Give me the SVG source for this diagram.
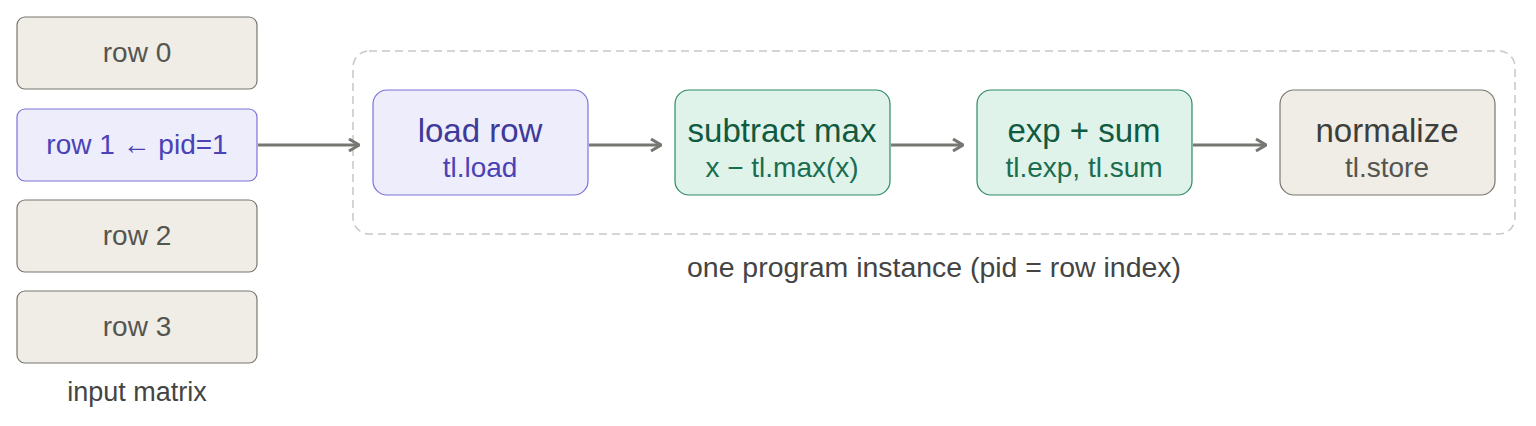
<svg xmlns="http://www.w3.org/2000/svg" width="1536" height="426" viewBox="0 0 1536 426">
<style>
text{font-family:"Liberation Sans",Arial,sans-serif;text-anchor:middle}
.g{fill:#f0ede6;stroke:#777770;stroke-width:1.2}
.p{fill:#ededfb;stroke:#7b72d8;stroke-width:1.2}
.t{fill:#e0f3ea;stroke:#2e8a66;stroke-width:1.2}
.gt{fill:#555550}
.pt{fill:#4a42b5}
.pt2{fill:#3f3a9a}
.tt{fill:#0f5a40}
.tt2{fill:#1a6e50}
.c{stroke:#777772;stroke-width:3;fill:none;marker-end:url(#a)}
</style>
<defs><marker id="a" markerWidth="12" markerHeight="14" refX="11" refY="7" orient="auto" markerUnits="userSpaceOnUse"><path d="M1,1 L11,7 L1,13" fill="none" stroke="#777772" stroke-width="3"/></marker></defs>
<rect x="353" y="51" width="1162" height="183" rx="16" fill="none" stroke="#c8c8c8" stroke-width="1.5" stroke-dasharray="8,5"/>
<text x="934" y="277" font-size="27" textLength="494" lengthAdjust="spacingAndGlyphs" fill="#444">one program instance (pid = row index)</text>
<g id="row0"><rect class="g" x="17" y="17" width="240" height="72" rx="8"/><text class="gt" x="137" y="62" font-size="28">row 0</text></g>
<g id="row1"><rect class="p" x="17" y="109" width="240" height="72" rx="8"/><text class="pt" x="137" y="154" font-size="28">row 1 ← pid=1</text></g>
<g id="row2"><rect class="g" x="17" y="200" width="240" height="72" rx="8"/><text class="gt" x="137" y="245" font-size="28">row 2</text></g>
<g id="row3"><rect class="g" x="17" y="291" width="240" height="72" rx="8"/><text class="gt" x="137" y="336" font-size="28">row 3</text></g>
<text x="137" y="401" font-size="27" fill="#444">input matrix</text>
<g id="load"><rect class="p" x="373" y="90" width="215" height="105" rx="14"/><text class="pt2" x="480" y="142" font-size="33">load row</text><text class="pt" x="480" y="177" font-size="28">tl.load</text></g>
<g id="sub"><rect class="t" x="675" y="90" width="215" height="105" rx="14"/><text class="tt" x="782" y="142" font-size="33">subtract max</text><text class="tt2" x="782" y="177" font-size="28">x − tl.max(x)</text></g>
<g id="exp"><rect class="t" x="977" y="90" width="215" height="105" rx="14"/><text class="tt" x="1084" y="142" font-size="33">exp + sum</text><text class="tt2" x="1084" y="177" font-size="28">tl.exp, tl.sum</text></g>
<g id="norm"><rect class="g" x="1280" y="90" width="215" height="105" rx="14"/><text x="1387" y="142" font-size="33" fill="#3e3e3a">normalize</text><text class="gt" x="1387" y="177" font-size="28">tl.store</text></g>
<g id="connectors">
<line class="c" x1="258" y1="145" x2="359" y2="145"/>
<line class="c" x1="589" y1="145" x2="661" y2="145"/>
<line class="c" x1="891" y1="145" x2="963" y2="145"/>
<line class="c" x1="1193" y1="145" x2="1266" y2="145"/>
</g>
</svg>
